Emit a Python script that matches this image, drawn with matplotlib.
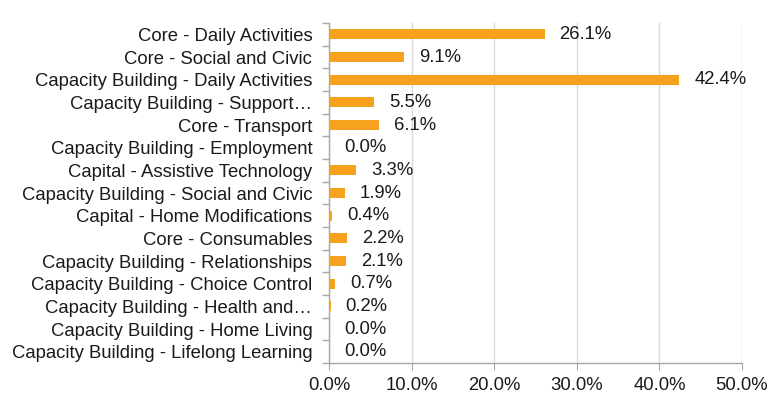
import matplotlib
matplotlib.use("Agg")
import matplotlib.pyplot as plt
import numpy as np
from matplotlib.ticker import FixedLocator, FuncFormatter

categories = [
    "Core - Daily Activities",
    "Core - Social and Civic",
    "Capacity Building - Daily Activities",
    "Capacity Building - Support…",
    "Core - Transport",
    "Capacity Building - Employment",
    "Capital - Assistive Technology",
    "Capacity Building - Social and Civic",
    "Capital - Home Modifications",
    "Core - Consumables",
    "Capacity Building - Relationships",
    "Capacity Building - Choice Control",
    "Capacity Building - Health and…",
    "Capacity Building - Home Living",
    "Capacity Building - Lifelong Learning",
]
values = [26.1, 9.1, 42.4, 5.5, 6.1, 0.0, 3.3, 1.9, 0.4, 2.2, 2.1, 0.7, 0.2, 0.0, 0.0]
xticks = [0, 10, 20, 30, 40, 50]

plt.rcParams['font.family'] = ['Liberation Sans', 'DejaVu Sans']
fs = 13.3
fig = plt.figure(figsize=(7.79, 4.05), dpi=100)
ax = fig.add_axes([0.4223, 0.1037, 0.5302, 0.8395])

n = len(categories)
y = np.arange(n)
bar_color = '#F7A21E'
ax.barh(y, values, height=0.45, color=bar_color, zorder=3)
ax.set_ylim(n - 0.5, -0.5)
ax.set_xlim(0, 50)

ax.set_yticks(y)
ax.set_yticklabels(categories, fontsize=fs, color='#1a1a1a')
ax.yaxis.set_minor_locator(FixedLocator(np.arange(-0.5, n, 1)))
ax.tick_params(axis='y', which='major', length=0, pad=12)
ax.tick_params(axis='y', which='minor', length=5, color='#A6A6A6', width=1)

ax.set_xticks(xticks)
ax.xaxis.set_major_formatter(FuncFormatter(lambda v, p: f"{v:.1f}%"))
ax.tick_params(axis='x', which='major', length=5, color='#A6A6A6', labelsize=fs, labelcolor='#1a1a1a', pad=5)
ax.grid(axis='x', color='#D9D9D9', linewidth=1, zorder=0)
ax.grid(axis='y', visible=False)

for s in ['top', 'right']:
    ax.spines[s].set_visible(False)
for s in ['left', 'bottom']:
    ax.spines[s].set_color('#A6A6A6')
    ax.spines[s].set_linewidth(1)

for yi, v in zip(y, values):
    ax.annotate(f"{v:.1f}%", xy=(v, yi), xytext=(15, 0), textcoords='offset pixels',
                va='center', ha='left', fontsize=fs, color='#1a1a1a')

fig.savefig("out.png", dpi=100)
